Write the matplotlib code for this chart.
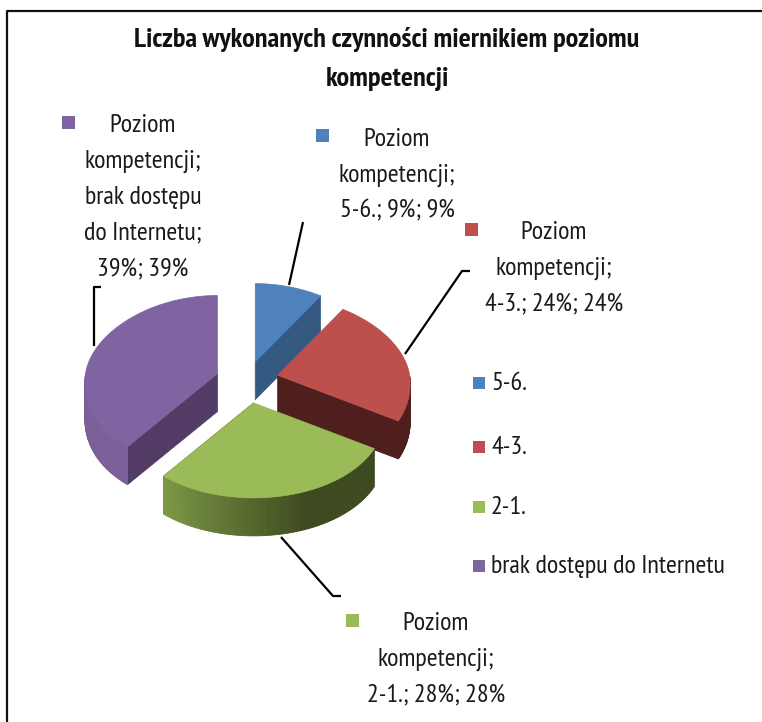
import numpy as np
import matplotlib
matplotlib.use("Agg")
import matplotlib.pyplot as plt
from matplotlib.patches import Polygon, Rectangle

plt.rcParams["font.family"] = ["PT Sans Narrow", "Archivo Narrow", "Open Sans", "DejaVu Sans"]

title = "Liczba wykonanych czynności miernikiem poziomu\nkompetencji"
categories = ["5-6.", "4-3.", "2-1.", "brak dostępu do Internetu"]
values = [9, 24, 28, 39]
label_lines = [
    ["Poziom", "kompetencji;", "5-6.; 9%; 9%"],
    ["Poziom", "kompetencji;", "4-3.; 24%; 24%"],
    ["Poziom", "kompetencji;", "2-1.; 28%; 28%"],
    ["Poziom", "kompetencji;", "brak dostępu", "do Internetu;", "39%; 39%"],
]
top_colors = ["#4f81bd", "#bd4f4c", "#9bbb59", "#8064a2"]
cut_colors = ["#355a82", "#4e1f1d", "#3f4c20", "#523c66"]
rim_dark = ["#355a82", "#4e1f1d", "#3d4a1f", "#6a5283"]
rim_light = ["#355a82", "#5a2522", "#7f9a45", "#7a5f98"]

# layout of the tilted pie, in pixels
center = (247, 380)
explode = 0.245
depth = 38

label_pos = [(397, 139.5), (554, 232.5), (436, 623.5), (143, 126)]
marker_pos = [(322, 135), (471, 229), (352, 620), (68, 122)]
legend_y = [383, 447, 507, 566]
leaders = [
    [(303, 222), (289, 285)],
    [(470, 271), (462, 271), (405, 354)],
    [(341, 596), (333, 596), (281, 537)],
    [(101, 287), (94, 287), (94, 346)],
]


def project(theta):
    # clockwise from 12 o'clock, front of the pie looks bigger than the back
    c = np.cos(theta)
    rx = 132 - 12 * c
    ry = np.where(c > 0, 78, 95)
    return rx * np.sin(theta), -ry * c


fig = plt.figure(figsize=(7.62, 7.22), dpi=100)
ax = fig.add_axes([0, 0, 1, 1])
ax.set_xlim(0, 762)
ax.set_ylim(722, 0)
ax.axis("off")

# frame, no bottom edge in the original crop
ax.plot([7, 7, 762], [722, 11, 11], color="#111111", lw=1.6)

fractions = np.array(values) / sum(values)
edges = np.concatenate([[0], np.cumsum(fractions)]) * 2 * np.pi
draw_order = [0, 3, 1, 2]

for i in draw_order:
    a0, a1 = edges[i], edges[i + 1]
    mid = (a0 + a1) / 2
    mx, my = project(np.array(mid))
    ax0 = center[0] + explode * mx
    ay0 = center[1] + explode * my

    t = np.linspace(a0, a1, 120)
    x, y = project(t)
    x = x + ax0
    y = y + ay0

    # cut face that looks at the viewer
    if i == 3:
        cx, cy = x[0], y[0]
    else:
        cx, cy = x[-1], y[-1]
    ax.add_patch(Polygon([(ax0, ay0), (cx, cy), (cx, cy + depth), (ax0, ay0 + depth)],
                         closed=True, fc=cut_colors[i], ec=cut_colors[i], lw=0.5, zorder=i + 2))

    # outer rim, only the front half is visible
    show = np.where((t >= np.pi / 2) & (t <= 3 * np.pi / 2))[0]
    if len(show) > 1:
        dark = np.array(matplotlib.colors.to_rgb(rim_dark[i]))
        light = np.array(matplotlib.colors.to_rgb(rim_light[i]))
        for k in range(show[0], show[-1]):
            s = (t[k] - np.pi / 2) / np.pi
            s = min(1, max(0, (s - 0.38) / 0.34))
            col = dark + (light - dark) * s
            ax.add_patch(Polygon([(x[k], y[k]), (x[k + 1], y[k + 1]),
                                  (x[k + 1], y[k + 1] + depth), (x[k], y[k] + depth)],
                                 closed=True, fc=col, ec=col, lw=0.6, zorder=i + 2))

    pts = np.column_stack([np.r_[ax0, x], np.r_[ay0, y]])
    ax.add_patch(Polygon(pts, closed=True, fc=top_colors[i], ec=top_colors[i], lw=0.5, zorder=i + 2.5))

for line in leaders:
    xs, ys = zip(*line)
    ax.plot(xs, ys, color="black", lw=1.6, zorder=1, solid_capstyle="butt")

ax.text(387, 59, title, ha="center", va="center", fontsize=20.3, fontweight="bold",
        linespacing=1.8, color="#111111")

for i, lines in enumerate(label_lines):
    lx, ly = label_pos[i]
    for n, s in enumerate(lines):
        ax.text(lx, ly + n * 35.7, s, ha="center", va="center", fontsize=18.8, color="#1a1a1a")
    mx, my = marker_pos[i]
    ax.add_patch(Rectangle((mx - 6.5, my - 6.5), 13, 13, fc=top_colors[i], ec="none"))

for i, name in enumerate(categories):
    ax.add_patch(Rectangle((473, legend_y[i] - 6), 12, 12, fc=top_colors[i], ec="none"))
    ax.text(491, legend_y[i] + 1, name, ha="left", va="center", fontsize=18.8, color="#1a1a1a")

fig.savefig("out.png", dpi=100)
plt.close(fig)
